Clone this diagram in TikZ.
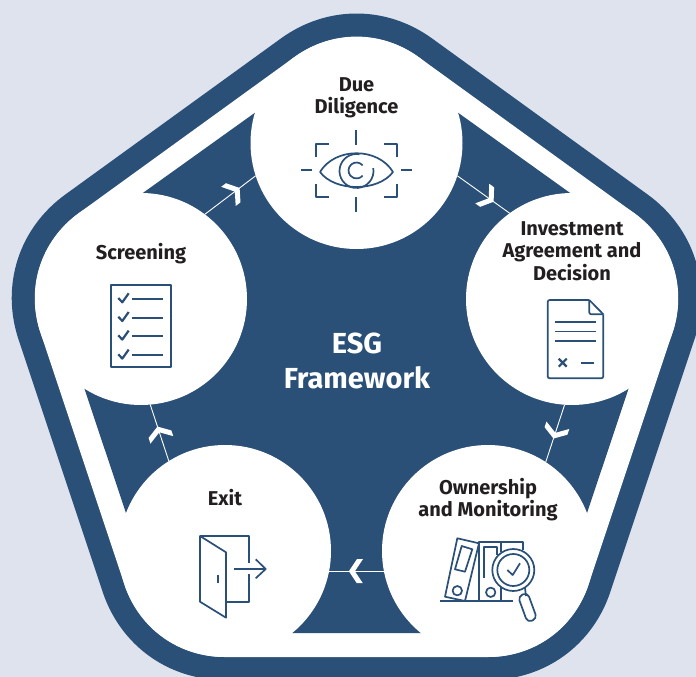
\documentclass[tikz,border=0pt]{standalone}
\usepackage{fontspec}
\setmainfont{Fira Sans}
\definecolor{esgblue}{HTML}{2A5078}
\definecolor{esgbg}{HTML}{DFE3ED}
\definecolor{esgtext}{HTML}{231F20}
\tikzset{
  stage/.style={circle,fill=white,minimum size=212pt,inner sep=0pt,outer sep=0pt},
  stagelabel/.style={font=\fontsize{20}{22.5}\selectfont\bfseries,text=esgtext,align=center,inner sep=0pt},
  titlelabel/.style={font=\fontsize{29}{35}\selectfont\bfseries,text=white,align=center,inner sep=0pt},
  link/.style={draw=white,line width=0.9pt},
  icon/.style={draw=esgblue,line width=1.7pt,fill=none,line cap=butt,line join=round},
  iconthick/.style={icon,line width=2.2pt},
  chevron/.pic={\fill[white] (6,0)--(-2,12)--(-8,12)--(0,0)--(-8,-12)--(-2,-12)--cycle;},
}
\begin{document}
\begin{tikzpicture}[x=1pt,y=-1pt]
\useasboundingbox (0,0) rectangle (696,677);
\clip (0,0) rectangle (696,677);
\fill[esgbg] (0,0) rectangle (696,677);
\coordinate (cd) at (356.5,143);
\coordinate (ci) at (572,299);
\coordinate (co) at (488,551);
\coordinate (ce) at (225,551);
\coordinate (cs) at (141,299);
% hull ring, white band, inner pentagon
\draw[esgblue,fill=esgblue,line width=258pt,line join=round] (cd)--(ci)--(co)--(ce)--(cs)--cycle;
\draw[white,fill=white,line width=212pt,line join=round] (cd)--(ci)--(co)--(ce)--(cs)--cycle;
\fill[esgblue] (356.5,40)--(670,264.5)--(547,633)--(166,633)--(43,264.5)--cycle;
% stages
\node[stage] (dd) at (cd) {};
\node[stage] (inv) at (ci) {};
\node[stage] (own) at (co) {};
\node[stage] (ex) at (ce) {};
\node[stage] (scr) at (cs) {};
% connectors
\draw[link] (dd.-18.7) -- pic[pos=.6,sloped,allow upside down]{chevron} (inv.126.2);
\draw[link] (inv.-94.9) -- pic[pos=.49,sloped,allow upside down]{chevron} (own.57.9);
\draw[link] (own.191.4) -- pic[pos=.53,sloped,allow upside down]{chevron} (ex.-11.4);
\draw[link] (ex.122.1) -- pic[pos=.51,sloped,allow upside down]{chevron} (scr.-85);
\draw[link] (scr.53.5) -- pic[pos=.59,sloped,allow upside down]{chevron} (dd.198.7);
% labels
\node[stagelabel] (tdd) at (356.5,98) {Due\\Diligence};
\node[stagelabel] (tinv) at (572,251) {Investment\\Agreement and\\Decision};
\node[stagelabel] (town) at (488,499.5) {Ownership\\and Monitoring};
\node[stagelabel] (tex) at (225,498) {Exit};
\node[stagelabel] (tscr) at (141,254) {Screening};
\node[titlelabel] (ttl) at (357,361) {ESG\\Framework};
% eye icon
\draw[iconthick] (356.3,130)--(356.3,145) (356.3,197)--(356.3,212) (301,170)--(312,170) (401,170)--(412,170);
\draw[iconthick] (329,144.3)-|(315.7,157) (384,144.3)-|(397,157) (329,196.7)-|(315.7,184) (384,196.7)-|(397,184);
\draw[icon] (320,172) .. controls (335,147) and (378,147) .. (393,172) .. controls (378,192) and (335,192) .. (320,172);
\draw[icon] ([shift={(-80:17)}]356.5,171) arc[start angle=-80,end angle=-370,radius=17];
\draw[icon] ([shift={(-40:8)}]356.5,170.5) arc[start angle=-40,end angle=-320,radius=8];
% document icon
\draw[icon,rounded corners=2pt] (589.3,300)--(547.7,300)--(547.7,378.3)--(603.3,378.3)--(603.3,314.3);
\draw[icon] (589.3,300)--(603.3,314.3);
\draw[icon,rounded corners=2pt] (589.3,300)--(589.3,314.3)--(603.3,314.3);
\draw[icon] (555,322.3)--(595.7,322.3) (555,331.5)--(595.7,331.5) (555,340.7)--(595.7,340.7) (581,362.7)--(594,362.7);
\draw[iconthick] (558.7,358.7)--(566.7,366.7) (566.7,358.7)--(558.7,366.7);
% checklist icon
\draw[icon] (111.3,285) rectangle (171,366.7);
\foreach \ry in {299,317.7,336.3,355.3}{
  \draw[icon] (132,\ry)--(162.7,\ry);
  \draw[iconthick] (118.3,\ry-1)--(122.3,\ry+3.3)--(128.7,\ry-5.7);
}
% door icon
\draw[icon] (248.7,562.7)--(248.7,536)--(200,536);
\draw[icon] (200,536)--(226,552.3)--(226,617.7)--(200,601.7)--cycle;
\draw[icon] (248.7,574.3)--(248.7,601.7)--(226,601.7);
\draw[icon] (218.3,575)--(218.3,583.3);
\draw[icon] (234,569)--(265.7,569) (255.7,559.3)--(265.7,569)--(255.7,578.3);
% binders icon
\draw[icon] (440,601)--(513,601);
\draw[icon] (457.3,538.3)--(479,543.3)--(465,601)--(445,596.7)--cycle;
\draw[icon] (461.7,546)--(472.3,549.3)--(465,571.7)--(455,569.3)--cycle;
\draw[icon] (457.3,590.7) circle[radius=4.7];
\draw[icon] (479.3,601)--(479.3,541.7)--(523.3,541.7)--(523.3,550);
\draw[icon] (501,541.7)--(501,552) (501,586.7)--(501,601);
\draw[icon] (484.3,578)--(484.3,547)--(496.7,547)--(496.7,555);
\draw[icon] (490.7,592.3) circle[radius=4.7];
\draw[icon,fill=white] (513.3,570) circle[radius=21];
\draw[icon] (513.3,570) circle[radius=16];
\draw[icon] (507.3,570)--(512.7,575)--(520,563.3);
\draw[icon] (525,588)--(526,596);
\draw[icon,rounded corners=4.5pt] (518,596.5)--(527.5,592.5)--(537,618.5)--(527.5,622.5)--cycle;
\end{tikzpicture}
\end{document}
